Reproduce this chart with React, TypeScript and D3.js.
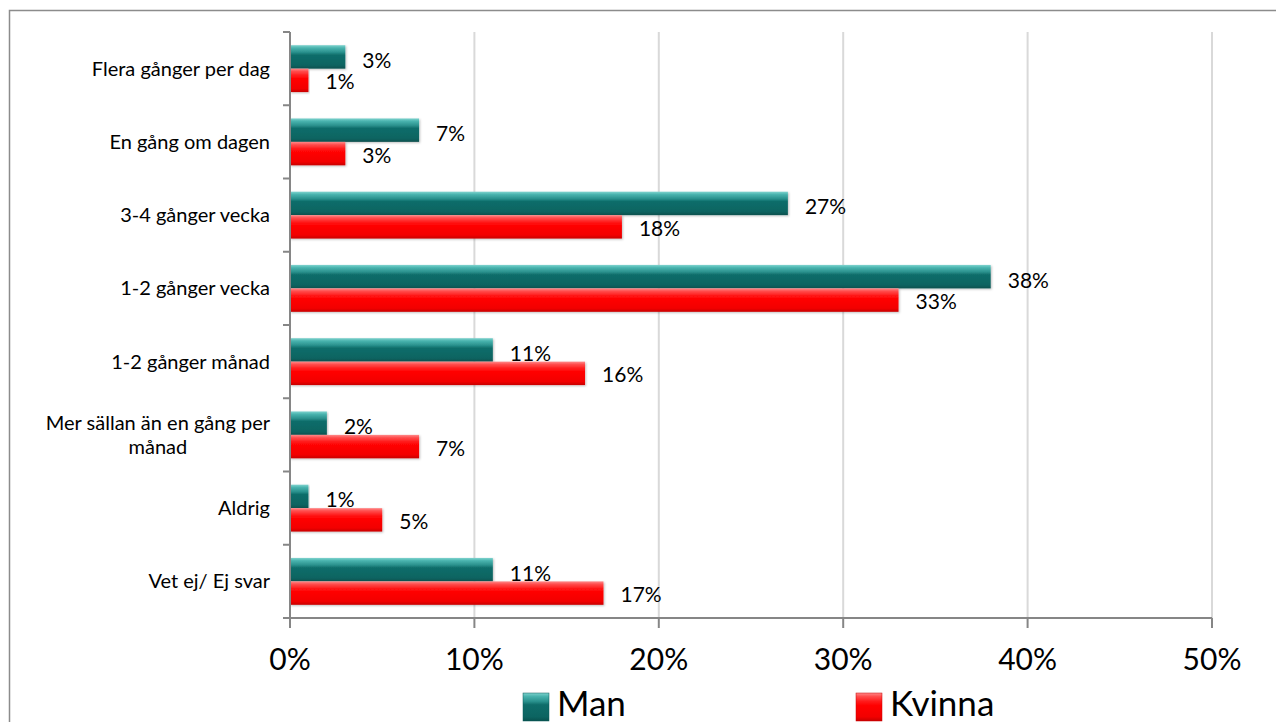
import React, { useLayoutEffect, useRef, useState } from "react";
import * as d3 from "d3";

const categories: string[][] = [
  ["Flera gånger per dag"],
  ["En gång om dagen"],
  ["3-4 gånger vecka"],
  ["1-2 gånger vecka"],
  ["1-2 gånger månad"],
  ["Mer sällan än en gång per", "månad"],
  ["Aldrig"],
  ["Vet ej/ Ej svar"],
];
const seriesNames = ["Man", "Kvinna"];
const manValues = [3, 7, 27, 38, 11, 2, 1, 11];
const kvinnaValues = [1, 3, 18, 33, 16, 7, 5, 17];
const xTicks = [0, 10, 20, 30, 40, 50];

const W = 1276;
const H = 722;
const FONT = "Lato, 'Open Sans', sans-serif";

export default function App() {
  const firstLineRef = useRef<SVGTextElement | null>(null);
  const [w1, setW1] = useState(226);
  useLayoutEffect(() => {
    if (firstLineRef.current) setW1(firstLineRef.current.getComputedTextLength());
  }, []);

  const left = 290, right = 1212, top = 32, bottom = 618;
  const x = d3.scaleLinear().domain([0, 50]).range([left, right]);
  const keys = categories.map((c) => c.join(" "));
  const y0 = d3.scaleBand<string>().domain(keys).range([top, bottom]).paddingInner(0.36).paddingOuter(0.18);
  const y1 = d3.scaleBand<string>().domain(seriesNames).range([0, y0.bandwidth()]);
  const step = y0.step();
  const series = [
    { name: "Man", values: manValues, fill: "url(#gTeal)", labelDy: 11 },
    { name: "Kvinna", values: kvinnaValues, fill: "url(#gRed)", labelDy: 9 },
  ];
  const axisColor = "#868686";
  const labelX = 270;

  return (
    <svg width={W} height={H} style={{ position: "absolute", left: 0, top: 0, background: "#fff" }} fontFamily={FONT}>
      <defs>
        <linearGradient id="gTeal" x1="0" y1="0" x2="0" y2="1">
          <stop offset="0" stopColor="#7fd3ce" />
          <stop offset="0.12" stopColor="#49b3ae" />
          <stop offset="0.3" stopColor="#2a918d" />
          <stop offset="0.42" stopColor="#0f6d6a" />
          <stop offset="0.85" stopColor="#0c6461" />
          <stop offset="1" stopColor="#08514e" />
        </linearGradient>
        <linearGradient id="gRed" x1="0" y1="0" x2="0" y2="1">
          <stop offset="0" stopColor="#ff8a8a" />
          <stop offset="0.12" stopColor="#ff4d4d" />
          <stop offset="0.3" stopColor="#ff1a1a" />
          <stop offset="0.45" stopColor="#ff0000" />
          <stop offset="0.85" stopColor="#f20000" />
          <stop offset="1" stopColor="#c80000" />
        </linearGradient>
        <filter id="shadow" x="-5%" y="-30%" width="110%" height="170%">
          <feDropShadow dx="1" dy="1" stdDeviation="1.2" floodColor="#000" floodOpacity="0.25" />
        </filter>
      </defs>
      <rect x={9.5} y={10.5} width={W + 20} height={H + 20} fill="#fff" stroke="#8c8c8c" strokeWidth={1.5} />

      {xTicks.filter((t) => t > 0).map((t) => (
        <line key={"g" + t} x1={x(t)} x2={x(t)} y1={top} y2={bottom} stroke="#d9d9d9" strokeWidth={2} />
      ))}

      {series.map((s) =>
        s.values.map((v, i) => {
          const yy = (y0(keys[i]) as number) + (y1(s.name) as number);
          return (
            <rect key={s.name + i} x={x(0)} y={yy} width={x(v) - x(0)} height={y1.bandwidth()} fill={s.fill} filter="url(#shadow)" />
          );
        })
      )}

      {series.map((s) =>
        s.values.map((v, i) => {
          const yc = (y0(keys[i]) as number) + (y1(s.name) as number) + y1.bandwidth() / 2;
          return (
            <text key={"l" + s.name + i} x={x(v) + 17} y={yc + s.labelDy} fontSize={21} fill="#000">
              {v}%
            </text>
          );
        })
      )}

      {/* axes */}
      <line x1={left} x2={left} y1={top} y2={bottom} stroke={axisColor} strokeWidth={2} />
      <line x1={left} x2={right} y1={bottom} y2={bottom} stroke={axisColor} strokeWidth={2} />
      {d3.range(categories.length + 1).map((k) => (
        <line key={"yt" + k} x1={283} x2={left} y1={top + k * step} y2={top + k * step} stroke={axisColor} strokeWidth={2} />
      ))}
      {xTicks.map((t) => (
        <g key={"xt" + t}>
          <line x1={x(t)} x2={x(t)} y1={bottom} y2={bottom + 10} stroke={axisColor} strokeWidth={2} />
          <text x={x(t)} y={670} textAnchor="middle" fontSize={30} fill="#000">
            {t}%
          </text>
        </g>
      ))}

      {categories.map((lines, i) => {
        const yc = (y0(keys[i]) as number) + y0.bandwidth() / 2;
        const n = lines.length;
        return lines.map((ln, j) => {
          const yy = yc + 7 - (n - 1) * 12 + j * 24;
          if (n > 1) {
            return (
              <text key={"c" + i + j} ref={j === 0 ? firstLineRef : undefined} x={labelX - w1 / 2} y={yy} textAnchor="middle" fontSize={20} fill="#000">
                {ln}
              </text>
            );
          }
          return (
            <text key={"c" + i + j} x={labelX} y={yy} textAnchor="end" fontSize={20} fill="#000">
              {ln}
            </text>
          );
        });
      })}

      {/* legend */}
      <rect x={523} y={693} width={26} height={28} fill="url(#gTeal)" stroke="#0a5a57" strokeWidth={0.5} />
      <text x={557} y={716} fontSize={35} fill="#000">{seriesNames[0]}</text>
      <rect x={856} y={693} width={26} height={28} fill="url(#gRed)" stroke="#c80000" strokeWidth={0.5} />
      <text x={890} y={716} fontSize={35} fill="#000">{seriesNames[1]}</text>
    </svg>
  );
}
